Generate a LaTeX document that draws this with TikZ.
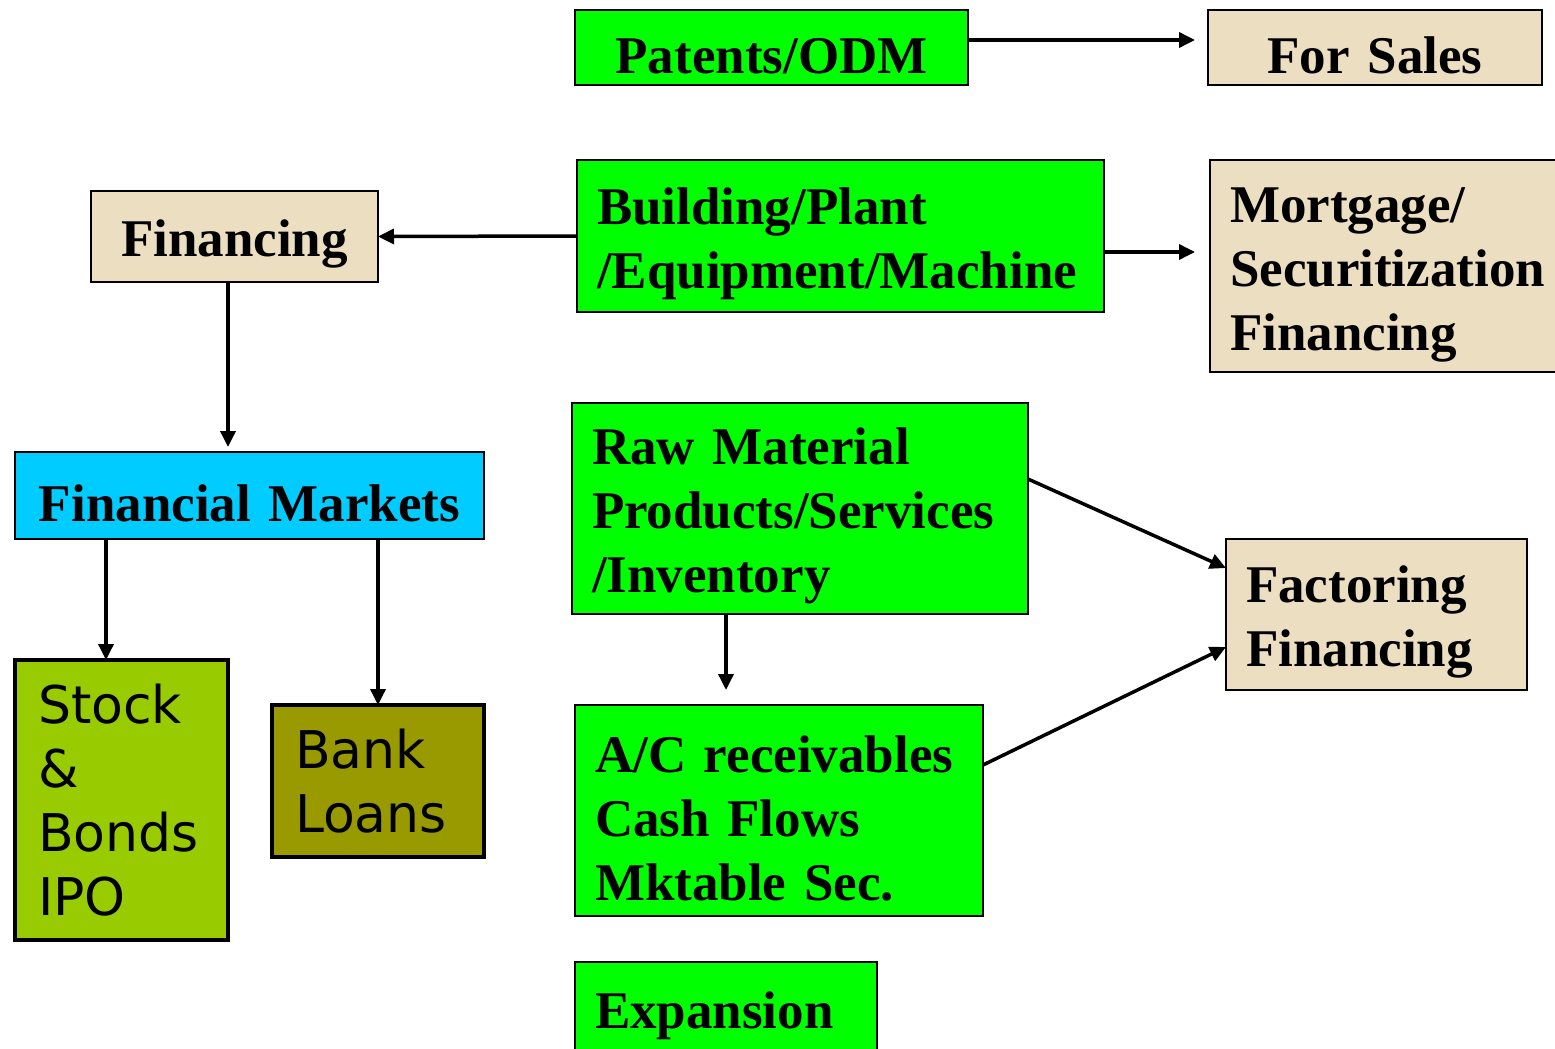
\documentclass[tikz,border=0pt]{standalone}
\usepackage{fontspec}
\setmainfont{Liberation Serif}
\setsansfont{DejaVu Sans}
\usepackage{xcolor}
\usepackage{tikz}
\usetikzlibrary{
	arrows.meta,
	positioning,
	}
\definecolor{limegreen}{RGB}{0,255,0}
\definecolor{parchment}{RGB}{236,222,192}
\definecolor{skycyan}{RGB}{0,204,255}
\definecolor{stockgreen}{RGB}{153,204,0}
\definecolor{bankolive}{RGB}{153,153,0}
\hyphenpenalty=10000
\tikzset{
	basebox/.style={draw, outer sep=0pt, anchor=north west, inner ysep=4pt, align=left},
	box/.style={basebox, line width=2pt, inner xsep=20pt, font=\bfseries\fontsize{53}{64}\selectfont, execute at begin node={\rule{0pt}{52pt}}},
	greenbox/.style={box, fill=limegreen},
	tanbox/.style={box, fill=parchment},
	sansbox/.style={basebox, line width=4pt, inner xsep=23pt, font=\sffamily\fontsize{52}{64}\selectfont},
	link/.style={-{Triangle[length=16pt,width=15pt]}, line width=3.5pt},
}

\begin{document}
\begin{tikzpicture}[x=1pt, y=-1pt]
		\useasboundingbox (0,0) rectangle (1555,1049);
		\node[greenbox, align=center, text width=353pt, minimum height=75pt] (pat) at (575,10) {Patents/ODM};
		\node[tanbox, align=center, text width=294pt, minimum height=75pt] (sales) at (1208,10) {For Sales};
		\node[tanbox, align=center, text width=247pt, minimum height=91pt] (fin) at (91,191) {Financing};
		\node[greenbox, text width=487pt, minimum height=152pt] (bldg) at (577,160) {Building/Plant\\/Equipment/Machine};
		\node[tanbox, text width=320pt, minimum height=212pt] (mort) at (1210,160) {Mortgage/\\Securitization\\Financing};
		\node[box, fill=skycyan, align=center, text width=429pt, minimum height=87pt] (fm) at (15,452) {Financial Markets};
		\node[greenbox, text width=416pt, minimum height=211pt] (raw) at (572,403) {Raw Material\\Products/Services\\/Inventory};
		\node[tanbox, text width=261pt, minimum height=151pt] (fact) at (1226,539) {Factoring\\Financing};
		\node[greenbox, text width=368pt, minimum height=211pt] (ac) at (575,705) {A/C receivables\\Cash Flows\\Mktable Sec.};
		\node[greenbox, text width=262pt, minimum height=92pt] (exp) at (575,962) {Expansion};
		\node[sansbox, fill=stockgreen, text width=167pt, minimum height=280pt] (stock) at (15,660) {Stock\\\&\\Bonds\\IPO};
		\node[sansbox, fill=bankolive, text width=166pt, minimum height=152pt] (bank) at (272,705) {Bank\\Loans};
		\draw[link] ([yshift=7.5pt]pat.east) -- ([yshift=7.5pt, xshift=-13pt]sales.west);
		\draw[link] (bldg.west) -- (fin.east);
		\draw[link] ([yshift=-16pt]bldg.east) -- ([yshift=14pt, xshift=-15pt]mort.west);
		\draw[link] ([xshift=-6.5pt]fin.south) -- ([xshift=-21.5pt, yshift=5pt]fm.north);
		\draw[link] ([xshift=-143.5pt]fm.south) -- ([xshift=-15.5pt]stock.north);
		\draw[link] ([xshift=128.5pt]fm.south) -- (bank.north);
		\draw[link] ([xshift=-74pt]raw.south) -- ([xshift=-53pt, yshift=15pt]ac.north);
		\draw[link] ([yshift=29.5pt]raw.east) -- ([yshift=46.5pt]fact.west);
		\draw[link] ([yshift=45.5pt]ac.east) -- ([yshift=-32.5pt]fact.west);
	\end{tikzpicture}
\end{document}
